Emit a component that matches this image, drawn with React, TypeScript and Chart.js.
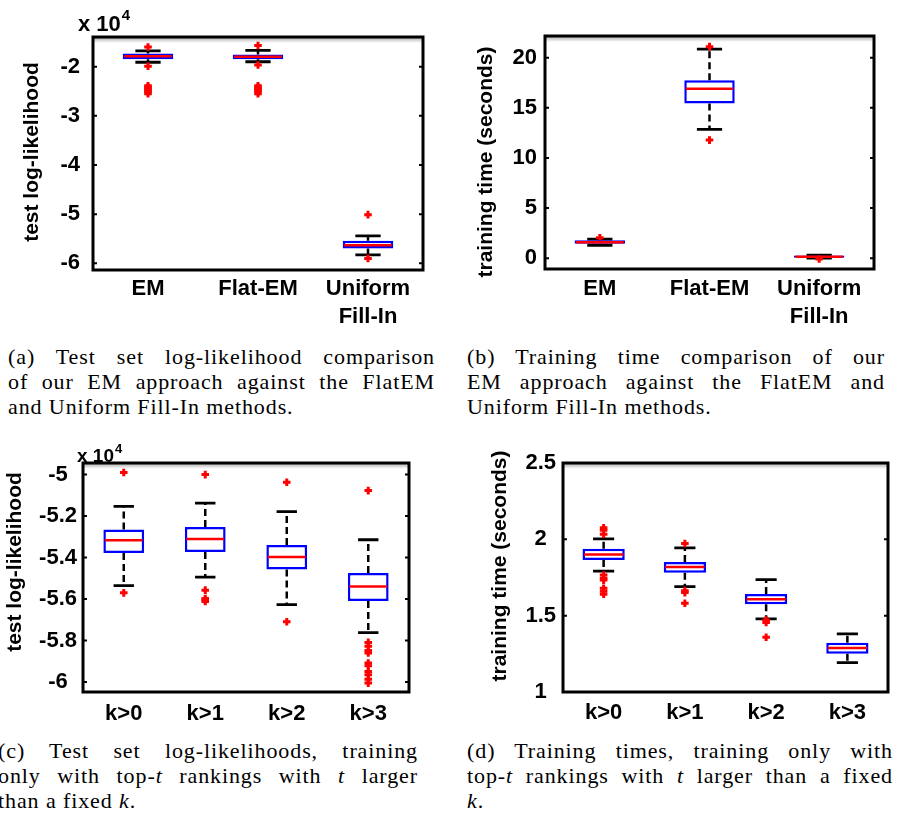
import React, { useEffect, useRef } from 'react';
import { Chart, registerables } from 'chart.js';

Chart.register(...registerables);

const SANS = "'Liberation Sans', Arial, Helvetica, sans-serif";
const SERIF = "'Liberation Serif', 'Times New Roman', serif";

// ---------- (a) test log-likelihood (x 10^4) ----------
const aLabels: any[] = ['EM', 'Flat-EM', ['Uniform', 'Fill-In']];
const aTicks = [-6, -5, -4, -3, -2];
const aQ1 = [-1.85, -1.85, -5.7];
const aMedian = [-1.79, -1.8, -5.63];
const aQ3 = [-1.73, -1.75, -5.54];
const aLower = [-1.91, -1.9, -5.83];
const aUpper = [-1.68, -1.67, -5.44];
const aOutliers = [
  [-1.6, -1.99, -2.39, -2.42, -2.45, -2.48, -2.51, -2.55],
  [-1.57, -1.965, -2.39, -2.42, -2.45, -2.48, -2.51, -2.55],
  [-5.01, -5.9],
];

// ---------- (b) training time (seconds) ----------
const bLabels: any[] = ['EM', 'Flat-EM', ['Uniform', 'Fill-In']];
const bTicks = [0, 5, 10, 15, 20];
const bQ1 = [1.45, 15.44, 0.05];
const bMedian = [1.6, 16.9, 0.16];
const bQ3 = [1.8, 17.76, 0.28];
const bLower = [1.3, 12.85, 0.02];
const bUpper = [1.9, 20.85, 0.3];
const bOutliers = [[2.05], [21.1, 11.78], [-0.07]];

// ---------- (c) test log-likelihoods by k (x 10^4) ----------
const cLabels: any[] = ['k>0', 'k>1', 'k>2', 'k>3'];
const cTicks = [-6, -5.8, -5.6, -5.4, -5.2, -5];
const cQ1 = [-5.378, -5.373, -5.457, -5.609];
const cMedian = [-5.317, -5.31, -5.397, -5.539];
const cQ3 = [-5.265, -5.252, -5.339, -5.474];
const cLower = [-5.535, -5.494, -5.627, -5.762];
const cUpper = [-5.153, -5.137, -5.178, -5.314];
const cOutliers = [
  [-4.99, -5.57],
  [-5.0, -5.557, -5.597, -5.605, -5.612],
  [-5.037, -5.709],
  [-5.077, -5.809, -5.828, -5.848, -5.86, -5.908, -5.921, -5.949, -5.965, -5.986, -6.005],
];

// ---------- (d) training times by k ----------
const dLabels: any[] = ['k>0', 'k>1', 'k>2', 'k>3'];
const dTicks = [1, 1.5, 2, 2.5];
const dQ1 = [1.864, 1.781, 1.575, 1.25];
const dMedian = [1.901, 1.818, 1.607, 1.289];
const dQ3 = [1.938, 1.851, 1.642, 1.322];
const dLower = [1.792, 1.69, 1.479, 1.193];
const dUpper = [2.003, 1.944, 1.736, 1.381];
const dOutliers = [
  [2.076, 2.06, 2.034, 1.766, 1.745, 1.733, 1.679, 1.66, 1.64],
  [1.973, 1.664, 1.651, 1.581],
  [1.472, 1.455, 1.359],
  [],
];

type Stats = {
  labels: any[];
  ticks: number[];
  q1: number[];
  median: number[];
  q3: number[];
  lower: number[];
  upper: number[];
  outliers: number[][];
};

type Layout = {
  left: number;
  top: number;
  width: number;
  height: number;
  plotLeft: number;
  plotTop: number;
  plotRight: number;
  plotBottom: number;
  yMin: number;
  yMax: number;
  boxPct: number;
  yTitle: string;
  titleSize: number;
  titleX: number;
  titleY: number;
  tickSize: number;
  tickPad: number;
  crossAlign: 'near' | 'center' | 'far';
  xSize: number;
  xPad: number;
  exp?: { text: string; sup: string; size: number; dx: number; dy: number };
};

function makeBoxPlugin(s: Stats, L: Layout) {
  return {
    id: 'boxParts',
    beforeDatasetsDraw(chart: any) {
      const ctx = chart.ctx;
      const xs = chart.scales.x;
      const ys = chart.scales.y;
      const meta = chart.getDatasetMeta(0);
      ctx.save();
      ctx.strokeStyle = '#000';
      s.labels.forEach((_l: any, i: number) => {
        const cx = xs.getPixelForValue(i);
        const hw = meta.data[i].width / 2;
        const yq1 = ys.getPixelForValue(s.q1[i]);
        const yq3 = ys.getPixelForValue(s.q3[i]);
        const ylo = ys.getPixelForValue(s.lower[i]);
        const yhi = ys.getPixelForValue(s.upper[i]);
        ctx.lineWidth = 2.5;
        ctx.setLineDash([7, 4]);
        ctx.beginPath();
        ctx.moveTo(cx, yq3);
        ctx.lineTo(cx, yhi);
        ctx.moveTo(cx, yq1);
        ctx.lineTo(cx, ylo);
        ctx.stroke();
        ctx.setLineDash([]);
        ctx.lineWidth = 2.8;
        ctx.beginPath();
        ctx.moveTo(cx - hw / 2, yhi);
        ctx.lineTo(cx + hw / 2, yhi);
        ctx.moveTo(cx - hw / 2, ylo);
        ctx.lineTo(cx + hw / 2, ylo);
        ctx.stroke();
      });
      ctx.restore();
    },
    afterDatasetDraw(chart: any, args: any) {
      if (args.index !== 0) return;
      const ctx = chart.ctx;
      const xs = chart.scales.x;
      const ys = chart.scales.y;
      const meta = chart.getDatasetMeta(0);
      ctx.save();
      ctx.strokeStyle = '#ff0000';
      ctx.lineWidth = 2.5;
      s.labels.forEach((_l: any, i: number) => {
        const cx = xs.getPixelForValue(i);
        const hw = meta.data[i].width / 2;
        const ym = ys.getPixelForValue(s.median[i]);
        ctx.beginPath();
        ctx.moveTo(cx - hw + 1.5, ym);
        ctx.lineTo(cx + hw - 1.5, ym);
        ctx.stroke();
      });
      ctx.restore();
    },
    afterDraw(chart: any) {
      const ctx = chart.ctx;
      const a = chart.chartArea;
      const ys = chart.scales.y;
      ctx.save();
      // soft shade under the top edge
      const g = ctx.createLinearGradient(0, a.top, 0, a.top + 6);
      g.addColorStop(0, 'rgba(0,0,0,0.35)');
      g.addColorStop(1, 'rgba(0,0,0,0)');
      ctx.fillStyle = g;
      ctx.fillRect(a.left, a.top, a.right - a.left, 6);
      // inward tick marks on left and right edges
      ctx.strokeStyle = '#000';
      ctx.lineWidth = 2;
      s.ticks.forEach((v) => {
        const py = ys.getPixelForValue(v);
        ctx.beginPath();
        ctx.moveTo(a.left, py);
        ctx.lineTo(a.left + 4, py);
        ctx.moveTo(a.right - 4, py);
        ctx.lineTo(a.right, py);
        ctx.stroke();
      });
      // frame
      ctx.lineWidth = 3;
      ctx.strokeRect(a.left, a.top, a.right - a.left, a.bottom - a.top);
      // y-axis title
      ctx.fillStyle = '#000';
      ctx.font = `bold ${L.titleSize}px ${SANS}`;
      ctx.textAlign = 'center';
      ctx.textBaseline = 'middle';
      ctx.save();
      ctx.translate(L.titleX, L.titleY);
      ctx.rotate(-Math.PI / 2);
      ctx.fillText(L.yTitle, 0, 0);
      ctx.restore();
      // exponent label
      if (L.exp) {
        ctx.textAlign = 'left';
        ctx.textBaseline = 'alphabetic';
        ctx.font = `bold ${L.exp.size}px ${SANS}`;
        const x0 = a.left + L.exp.dx;
        const y0 = a.top + L.exp.dy;
        ctx.fillText(L.exp.text, x0, y0);
        const w = ctx.measureText(L.exp.text).width;
        ctx.font = `bold ${Math.round(L.exp.size * 0.7)}px ${SANS}`;
        ctx.fillText(L.exp.sup, x0 + w + 1, y0 - L.exp.size * 0.5);
      }
      ctx.restore();
    },
  };
}

function Panel({ s, L }: { s: Stats; L: Layout }) {
  const ref = useRef<HTMLCanvasElement>(null);
  useEffect(() => {
    if (!ref.current) return;
    const maxOut = Math.max(0, ...s.outliers.map((o) => o.length));
    const outlierSets: any[] = [];
    for (let j = 0; j < maxOut; j++) {
      outlierSets.push({
        type: 'line',
        data: s.outliers.map((o) => (o[j] === undefined ? null : o[j])),
        showLine: false,
        pointStyle: 'cross',
        pointRadius: 3.8,
        pointBorderWidth: 3,
        pointBorderColor: '#ff0000',
        pointBackgroundColor: '#ff0000',
        borderColor: '#ff0000',
        backgroundColor: '#ff0000',
      });
    }
    const chart = new Chart(ref.current, {
      type: 'bar',
      data: {
        labels: s.labels,
        datasets: [
          {
            type: 'bar',
            data: s.q1.map((v, i) => [v, s.q3[i]]),
            backgroundColor: '#ffffff',
            borderColor: '#0000ff',
            borderWidth: 2.5,
            borderSkipped: false,
            barPercentage: L.boxPct,
            categoryPercentage: 1,
          } as any,
          ...outlierSets,
        ],
      },
      options: {
        animation: false,
        responsive: false,
        events: [],
        layout: {
          padding: { left: 0, top: L.plotTop, right: L.width - L.plotRight, bottom: 0 },
        },
        plugins: { legend: { display: false }, tooltip: { enabled: false } },
        scales: {
          x: {
            type: 'category',
            offset: true,
            grid: { display: false, drawTicks: false },
            border: { display: false },
            ticks: {
              color: '#000',
              font: { family: SANS, size: L.xSize, weight: 'bold', lineHeight: 1.27 },
              padding: L.xPad,
              maxRotation: 0,
              autoSkip: false,
            },
            afterFit: (sc: any) => {
              sc.height = L.height - L.plotBottom;
            },
          },
          y: {
            type: 'linear',
            min: L.yMin,
            max: L.yMax,
            grid: { display: false, drawTicks: false },
            border: { display: false },
            afterBuildTicks: (sc: any) => {
              sc.ticks = s.ticks.map((v) => ({ value: v }));
            },
            ticks: {
              color: '#000',
              font: { family: SANS, size: L.tickSize, weight: 'bold' },
              padding: L.tickPad,
              crossAlign: L.crossAlign,
              callback: (v: any) => String(v),
            },
            afterFit: (sc: any) => {
              sc.width = L.plotLeft;
            },
          },
        },
      } as any,
      plugins: [makeBoxPlugin(s, L) as any],
    });
    return () => chart.destroy();
  }, []);
  return (
    <canvas
      ref={ref}
      width={L.width}
      height={L.height}
      style={{ position: 'absolute', left: L.left, top: L.top, width: L.width, height: L.height, display: 'block' }}
    />
  );
}

function Caption({ left, top, width, lines }: { left: number; top: number; width: number; lines: React.ReactNode[] }) {
  return (
    <div
      style={{
        position: 'absolute',
        left,
        top,
        width,
        fontFamily: SERIF,
        fontSize: 22,
        letterSpacing: '0.9px',
        lineHeight: '25px',
        color: '#000',
      }}
    >
      {lines.map((ln, i) => (
        <div
          key={i}
          style={{ textAlign: 'justify', textAlignLast: i < lines.length - 1 ? 'justify' : 'left', whiteSpace: 'nowrap' } as any}
        >
          {ln}
        </div>
      ))}
    </div>
  );
}

const statsA: Stats = { labels: aLabels, ticks: aTicks, q1: aQ1, median: aMedian, q3: aQ3, lower: aLower, upper: aUpper, outliers: aOutliers };
const statsB: Stats = { labels: bLabels, ticks: bTicks, q1: bQ1, median: bMedian, q3: bQ3, lower: bLower, upper: bUpper, outliers: bOutliers };
const statsC: Stats = { labels: cLabels, ticks: cTicks, q1: cQ1, median: cMedian, q3: cQ3, lower: cLower, upper: cUpper, outliers: cOutliers };
const statsD: Stats = { labels: dLabels, ticks: dTicks, q1: dQ1, median: dMedian, q3: dQ3, lower: dLower, upper: dUpper, outliers: dOutliers };

const layoutA: Layout = {
  left: 0, top: 0, width: 451, height: 330,
  plotLeft: 93, plotTop: 37, plotRight: 423, plotBottom: 270,
  yMin: -6.136, yMax: -1.396, boxPct: 0.46,
  yTitle: 'test log-likelihood', titleSize: 21, titleX: 32, titleY: 152,
  tickSize: 22, tickPad: 13, crossAlign: 'near',
  xSize: 22, xPad: 5,
  exp: { text: 'x 10', sup: '4', size: 22, dx: -15, dy: -6 },
};
const layoutB: Layout = {
  left: 451, top: 0, width: 451, height: 330,
  plotLeft: 94, plotTop: 36, plotRight: 423, plotBottom: 269,
  yMin: -1.07, yMax: 22.16, boxPct: 0.46,
  yTitle: 'training time (seconds)', titleSize: 21, titleX: 35, titleY: 162,
  tickSize: 22, tickPad: 8, crossAlign: 'near',
  xSize: 22, xPad: 6,
};
const layoutC: Layout = {
  left: 0, top: 440, width: 451, height: 290,
  plotLeft: 83, plotTop: 23, plotRight: 409, plotBottom: 252,
  yMin: -6.048, yMax: -4.944, boxPct: 0.5,
  yTitle: 'test log-likelihood', titleSize: 21, titleX: 15, titleY: 122,
  tickSize: 22, tickPad: 6, crossAlign: 'center',
  xSize: 22, xPad: 8,
  exp: { text: 'x 10', sup: '4', size: 19, dx: -6, dy: -1 },
};
const layoutD: Layout = {
  left: 451, top: 440, width: 451, height: 290,
  plotLeft: 112, plotTop: 23, plotRight: 437, plotBottom: 252,
  yMin: 1, yMax: 2.5, boxPct: 0.52,
  yTitle: 'training time (seconds)', titleSize: 21, titleX: 49, titleY: 126,
  tickSize: 22, tickPad: 7, crossAlign: 'center',
  xSize: 22, xPad: 7,
};

export default function App() {
  return (
    <div style={{ position: 'absolute', left: 0, top: 0, width: 902, height: 817, overflow: 'hidden', background: '#fff' }}>
      <Panel s={statsA} L={layoutA} />
      <Panel s={statsB} L={layoutB} />
      <Panel s={statsC} L={layoutC} />
      <Panel s={statsD} L={layoutD} />
      <Caption
        left={8}
        top={344}
        width={427}
        lines={[
          '(a) Test set log-likelihood comparison',
          'of our EM approach against the FlatEM',
          'and Uniform Fill-In methods.',
        ]}
      />
      <Caption
        left={467}
        top={344}
        width={418}
        lines={[
          '(b) Training time comparison of our',
          'EM approach against the FlatEM and',
          'Uniform Fill-In methods.',
        ]}
      />
      <Caption
        left={-2}
        top={738}
        width={420}
        lines={[
          '(c) Test set log-likelihoods, training',
          <>only with top-<i>t</i> rankings with <i>t</i> larger</>,
          <>than a fixed <i>k</i>.</>,
        ]}
      />
      <Caption
        left={467}
        top={738}
        width={426}
        lines={[
          '(d) Training times, training only with',
          <>top-<i>t</i> rankings with <i>t</i> larger than a fixed</>,
          <><i>k</i>.</>,
        ]}
      />
    </div>
  );
}
